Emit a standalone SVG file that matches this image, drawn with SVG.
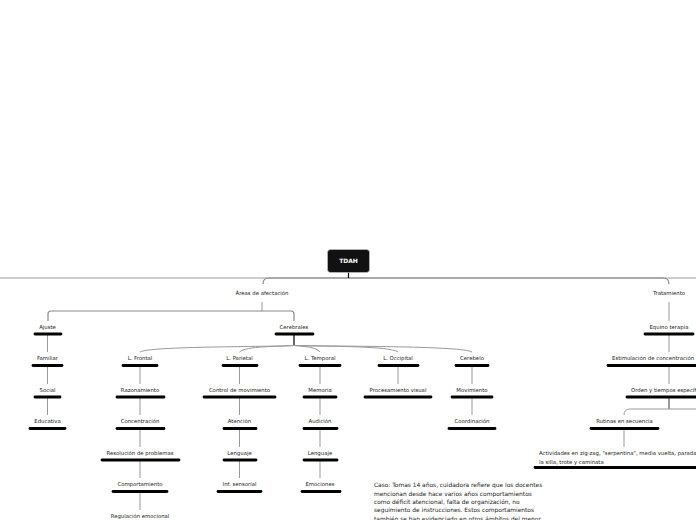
<svg xmlns="http://www.w3.org/2000/svg" width="696" height="520" viewBox="0 0 696 520">
<style>
text{font-family:"DejaVu Sans","Liberation Sans",sans-serif;font-size:5.35px;fill:#222;text-anchor:middle}
.bar{stroke:#000;stroke-width:2.8;stroke-linecap:round}
.c{fill:none;stroke:#999;stroke-width:1}
.cd{fill:none;stroke:#888;stroke-width:1.2}
.st{text-anchor:start}
.case{font-size:5.9px;text-anchor:start}
</style>
<rect width="696" height="520" fill="#fff"/>
<g id="connectors">
<line x1="0" y1="278" x2="696" y2="278" stroke="#bbb" stroke-width="1.4"/>
<path class="cd" d="M263,284 Q263,278 269,278 L663,278 Q669,278 669,284"/>
<line x1="348.5" y1="272" x2="348.5" y2="278" stroke="#000" stroke-width="1.2"/>
<path class="c" d="M262,302 L262,311"/>
<path class="cd" d="M48,321 L48,314 Q48,311 51,311 L291,311 Q294,311 294,314 L294,321"/>
<path class="c" d="M669,302 L669,321"/>
<line x1="294" y1="335" x2="294" y2="345.5" stroke="#000" stroke-width="1.2"/>
<path class="c" d="M294,345.5 C270,347 150,346 140,352"/>
<path class="c" d="M294,345.5 C280,346.5 245,346 239.5,352"/>
<path class="c" d="M294,345.5 C305,346.5 316,347 320,352"/>
<path class="c" d="M294,345.5 C330,346.5 390,346 398,352"/>
<path class="c" d="M294,345.5 C350,346.5 462,346 472,352"/>
<path class="c" d="M47.5,335 V352 M47.5,367 V384 M47.5,398 V415"/>
<path class="c" d="M140,367 V384 M140,398 V415 M140,430 V447 M140,461 V478 M140,493 V510"/>
<path class="c" d="M239.5,367 V384 M239.5,398 V415 M239.5,430 V447 M239.5,461 V478"/>
<path class="c" d="M320,367 V384 M320,398 V415 M320,430 V447 M320,461 V478"/>
<path class="c" d="M398,367 V384"/>
<path class="c" d="M472,367 V384 M472,398 V415"/>
<path class="c" d="M669,335 V352 M669,367 V384"/>
<line x1="669" y1="398" x2="669" y2="409" stroke="#333" stroke-width="1"/>
<path class="c" d="M696,409 L630,409 Q624,409 624,415"/>
<path class="c" d="M624,430 V447"/>
</g>
<g id="tdah">
<rect x="327.5" y="249.5" width="42" height="23" rx="3" fill="#111" stroke="#ccc" stroke-width="0.6"/>
<text x="348.5" y="263" style="fill:#fff;font-weight:bold;font-size:6px">TDAH</text>
</g>
<g id="areas"><text x="262" y="294.8">Áreas de afectación</text></g>
<g id="tratamiento"><text x="669" y="294.8">Tratamiento</text></g>
<g id="ajuste"><text x="47.5" y="328.8">Ajuste</text><line class="bar" x1="35" y1="334" x2="61" y2="334"/></g>
<g id="familiar"><text x="47.5" y="360.3">Familiar</text><line class="bar" x1="33" y1="365.5" x2="62" y2="365.5"/></g>
<g id="social"><text x="47.5" y="391.8">Social</text><line class="bar" x1="35" y1="397" x2="60" y2="397"/></g>
<g id="educativa"><text x="47.5" y="423.3">Educativa</text><line class="bar" x1="30" y1="428.5" x2="65" y2="428.5"/></g>
<g id="cerebrales"><text x="294" y="328.8">Cerebrales</text><line class="bar" x1="276" y1="334" x2="313" y2="334"/></g>
<g id="lfrontal"><text x="140" y="360.3">L. Frontal</text><line class="bar" x1="123" y1="365.5" x2="157" y2="365.5"/></g>
<g id="razonamiento"><text x="140" y="391.8">Razonamiento</text><line class="bar" x1="117" y1="397" x2="164" y2="397"/></g>
<g id="concentracion"><text x="140" y="423.3">Concentración</text><line class="bar" x1="117" y1="428.5" x2="164" y2="428.5"/></g>
<g id="resolucion"><text x="140" y="454.8">Resolución de problemas</text><line class="bar" x1="102" y1="460" x2="179" y2="460"/></g>
<g id="comportamiento"><text x="140" y="486.3">Comportamiento</text><line class="bar" x1="113" y1="491.5" x2="167" y2="491.5"/></g>
<g id="regulacion"><text x="140" y="517.8">Regulación emocional</text></g>
<g id="lparietal"><text x="239.5" y="360.3">L. Parietal</text><line class="bar" x1="223" y1="365.5" x2="257" y2="365.5"/></g>
<g id="control"><text x="239.5" y="391.8">Control de movimiento</text><line class="bar" x1="204" y1="397" x2="275" y2="397"/></g>
<g id="atencion"><text x="239.5" y="423.3">Atención</text><line class="bar" x1="224" y1="428.5" x2="256" y2="428.5"/></g>
<g id="lenguaje1"><text x="239.5" y="454.8">Lenguaje</text><line class="bar" x1="224" y1="460" x2="256" y2="460"/></g>
<g id="infsensorial"><text x="239.5" y="486.3">Inf. sensorial</text><line class="bar" x1="218" y1="491.5" x2="261" y2="491.5"/></g>
<g id="ltemporal"><text x="320" y="360.3">L. Temporal</text><line class="bar" x1="300" y1="365.5" x2="340" y2="365.5"/></g>
<g id="memoria"><text x="320" y="391.8">Memoria</text><line class="bar" x1="304" y1="397" x2="336" y2="397"/></g>
<g id="audicion"><text x="320" y="423.3">Audición</text><line class="bar" x1="304" y1="428.5" x2="337" y2="428.5"/></g>
<g id="lenguaje2"><text x="320" y="454.8">Lenguaje</text><line class="bar" x1="304" y1="460" x2="337" y2="460"/></g>
<g id="emociones"><text x="320" y="486.3">Emociones</text><line class="bar" x1="302" y1="491.5" x2="340" y2="491.5"/></g>
<g id="loccipital"><text x="398" y="360.3">L. Occipital</text><line class="bar" x1="379" y1="365.5" x2="418" y2="365.5"/></g>
<g id="procesamiento"><text x="398" y="391.8">Procesamiento visual</text><line class="bar" x1="365" y1="397" x2="431" y2="397"/></g>
<g id="cerebelo"><text x="472" y="360.3">Cerebelo</text><line class="bar" x1="456" y1="365.5" x2="488" y2="365.5"/></g>
<g id="movimiento"><text x="472" y="391.8">Movimiento</text><line class="bar" x1="452" y1="397" x2="492" y2="397"/></g>
<g id="coordinacion"><text x="472" y="423.3">Coordinación</text><line class="bar" x1="449" y1="428.5" x2="495" y2="428.5"/></g>
<g id="equino"><text x="669" y="328.8">Equino terapia</text><line class="bar" x1="645" y1="334" x2="693" y2="334"/></g>
<g id="estimulacion"><text class="st" x="612" y="360.3">Estimulación de concentración</text><line class="bar" x1="608" y1="365.5" x2="704" y2="365.5"/></g>
<g id="orden"><text class="st" x="631" y="391.8">Orden y tiempos específicos</text><line class="bar" x1="627" y1="397" x2="704" y2="397"/></g>
<g id="rutinas"><text x="624.5" y="423.3">Rutinas en secuencia</text><line class="bar" x1="591" y1="428.5" x2="658" y2="428.5"/></g>
<g id="actividades"><text class="st" x="539" y="455">Actividades en zig-zag, "serpentina", media vuelta, parada</text><text class="st" x="539" y="463.5">la silla, trote y caminata</text><line class="bar" x1="535" y1="467.5" x2="704" y2="467.5"/></g>
<g id="caso">
<text class="case" x="374" y="487.2">Caso: Tomas 14 años, cuidadora refiere que los docentes</text>
<text class="case" x="374" y="495.6">mencionan desde hace varios años comportamientos</text>
<text class="case" x="374" y="504">como déficit atencional, falta de organización, no</text>
<text class="case" x="374" y="512.4">seguimiento de instrucciones. Estos comportamientos</text>
<text class="case" x="374" y="520.8">también se han evidenciado en otros ámbitos del menor</text>
</g>
</svg>
